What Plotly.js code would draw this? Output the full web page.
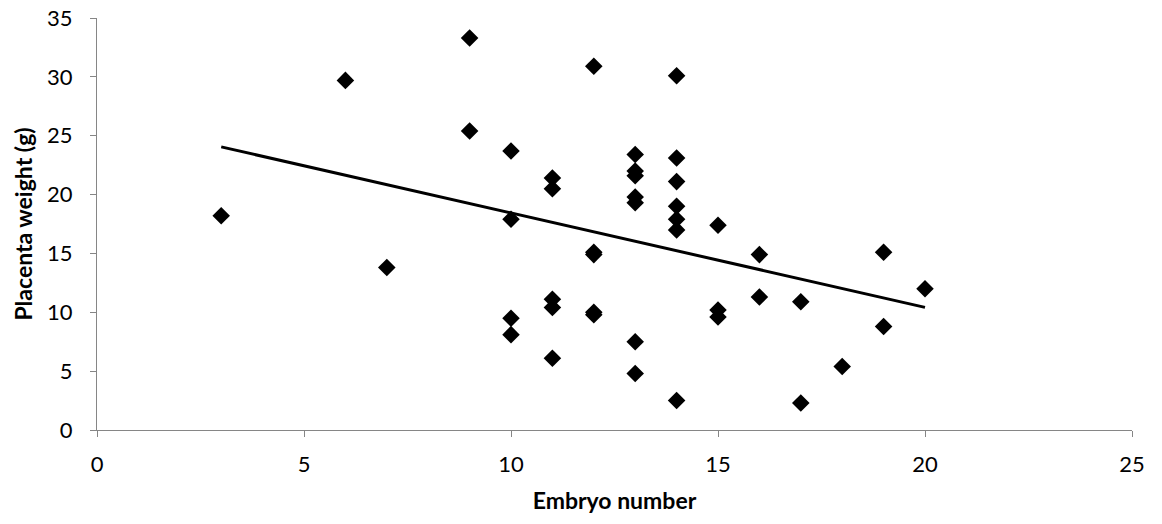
<!DOCTYPE html>
<html>
<head>
<meta charset="utf-8">
<script src="https://cdn.plot.ly/plotly-3.0.1.min.js"></script>
<style>html,body{margin:0;padding:0;background:#fff;}#chart{width:1162px;height:524px;}</style>
</head>
<body>
<div id="chart"></div>
<script>
// Embryo number (x) and placenta weight in g (y)
const embryoNumber = [3, 6, 7, 9, 9, 10, 10, 10, 10, 11, 11, 11, 11, 11,
  12, 12, 12, 12, 12, 13, 13, 13, 13, 13, 13, 13,
  14, 14, 14, 14, 14, 14, 14, 15, 15, 15, 16, 16, 17, 17, 18, 19, 19, 20];
const placentaWeight = [18.2, 29.7, 13.8, 33.3, 25.4, 23.7, 17.9, 9.5, 8.1, 21.4, 20.5, 11.1, 10.4, 6.1,
  30.9, 15.1, 14.9, 10.0, 9.8, 23.4, 22.0, 21.6, 19.8, 19.3, 7.5, 4.8,
  30.1, 23.1, 21.1, 19.0, 17.9, 17.0, 2.5, 17.4, 10.2, 9.6, 14.9, 11.3, 10.9, 2.3, 5.4, 15.1, 8.8, 12.0];
// Linear trend line endpoints as drawn
const trendX = [3, 20];
const trendY = [24.05, 10.42];
const xTicks = [0, 5, 10, 15, 20, 25];
const yTicks = [0, 5, 10, 15, 20, 25, 30, 35];

const font = "Lato, 'Open Sans', 'Liberation Sans', sans-serif";
const traces = [
  {x: embryoNumber, y: placentaWeight, type: 'scatter', mode: 'markers',
   marker: {symbol: 'diamond', size: 13.5, color: '#000000', line: {width: 0}}, cliponaxis: false},
  {x: trendX, y: trendY, type: 'scatter', mode: 'lines',
   line: {color: '#000000', width: 3}}
];
const axisCommon = {
  showgrid: false, zeroline: false, showline: true, linecolor: '#868686', linewidth: 1,
  ticks: 'outside', ticklen: 6, tickcolor: '#868686', tickwidth: 1,
  tickfont: {family: font, size: 22, color: '#000'}, tickmode: 'array'
};
const layout = {
  width: 1162, height: 524,
  margin: {l: 97, r: 30, t: 18, b: 94},
  paper_bgcolor: '#fff', plot_bgcolor: '#fff',
  showlegend: false,
  xaxis: Object.assign({}, axisCommon, {
    range: [0, 25], tickvals: xTicks, ticktext: xTicks.map(String), ticklabelstandoff: 9,
    title: {text: 'Embryo number', font: {family: font, size: 23, color: '#000', weight: 'bold'}, standoff: 16}
  }),
  yaxis: Object.assign({}, axisCommon, {
    range: [0, 35], tickvals: yTicks, ticktext: yTicks.map(String), ticklabelstandoff: 13,
    title: {text: 'Placenta weight (g)', font: {family: font, size: 23, color: '#000', weight: 'bold'}, standoff: 8}
  })
};
Plotly.newPlot('chart', traces, layout, {displayModeBar: false, staticPlot: true});
</script>
</body>
</html>
